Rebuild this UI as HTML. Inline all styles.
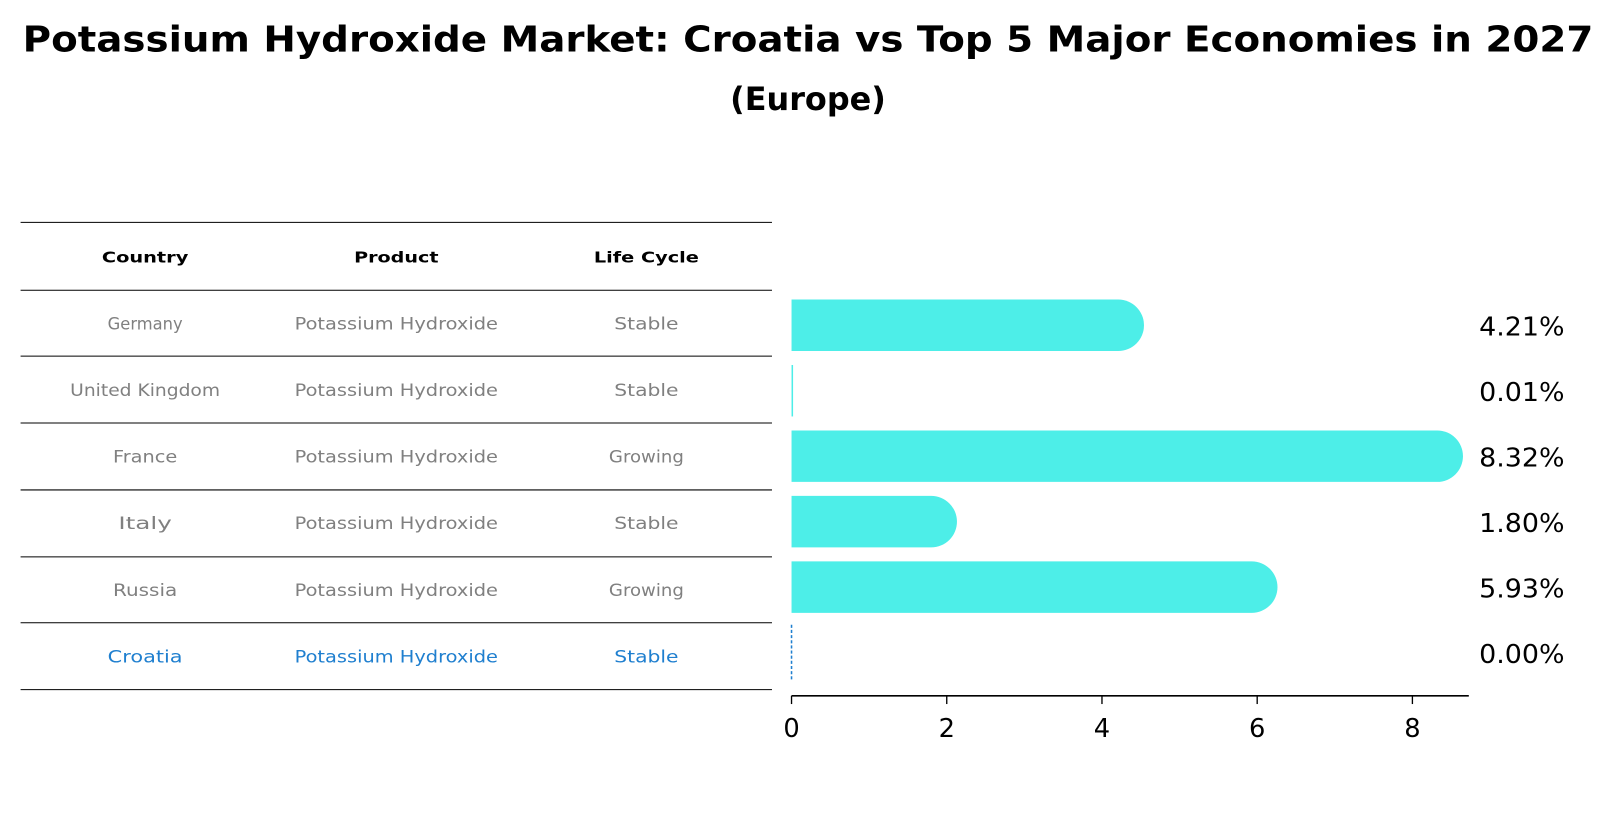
<!DOCTYPE html>
<html><head><meta charset="utf-8"><style>
body{margin:0;background:#fff;overflow:hidden;}
svg text{font-family:"DejaVu Sans","Liberation Sans",sans-serif;}
</style></head><body>
<svg width="1614" height="823" xmlns="http://www.w3.org/2000/svg">
<g transform="scale(1.0293)">
<text x="785" y="50" text-anchor="middle" font-size="35" font-weight="bold" textLength="1526" lengthAdjust="spacingAndGlyphs">Potassium Hydroxide Market: Croatia vs Top 5 Major Economies in 2027</text>
<text x="785" y="107" text-anchor="middle" font-size="31" font-weight="bold">(Europe)</text>
<g id="table"></g>
<g id="bars"></g>
</g>
</svg>
<script>
const countries=["Germany","United Kingdom","France","Italy","Russia","Croatia"];
const products=["Potassium Hydroxide","Potassium Hydroxide","Potassium Hydroxide","Potassium Hydroxide","Potassium Hydroxide","Potassium Hydroxide"];
const lifeCycles=["Stable","Stable","Growing","Stable","Growing","Stable"];
const values=[4.21,0.01,8.32,1.80,5.93,0.00];
const ticks=[0,2,4,6,8];
const NS="http://www.w3.org/2000/svg";
function mk(tag,attrs,parent,text){const e=document.createElementNS(NS,tag);for(const k in attrs)e.setAttribute(k,attrs[k]);if(text!==undefined)e.textContent=text;parent.appendChild(e);return e;}
const tbl=document.getElementById('table');
const lines=[216,282,346,411,476,541,605,670];
lines.forEach(y=>{const l=mk('line',{x1:20,x2:750,y1:y,y2:y,stroke:'#000','stroke-width':1},tbl);

});
const colX=[141,385,628];
["Country","Product","Life Cycle"].forEach((h,i)=>{const t=mk('text',{x:colX[i],y:255,'text-anchor':'middle','font-size':15,'font-weight':'bold','textLength':[84,82,102][i],'lengthAdjust':'spacingAndGlyphs'},tbl,h);

});
const rowY=i=>314+i*64.7;
countries.forEach((c,i)=>{
 const col=i===countries.length-1?'#1f7fcf':'#808080';
 [c,products[i],lifeCycles[i]].forEach((v,j)=>{const t=mk('text',{x:colX[j],y:rowY(i)+6,'text-anchor':'middle','font-size':16,fill:col,'textLength':v.length*10.4,'lengthAdjust':'spacingAndGlyphs'},tbl,v);
 
 });
});
const bars=document.getElementById('bars');
const x0=769,scale=75.4;
const xs=v=>x0+v*scale;
const yc=i=>316+i*63.6;
const bh=50;
values.forEach((v,i)=>{
 if(i===values.length-1){
  const l=mk('line',{x1:x0,x2:x0,y1:yc(i)-27,y2:yc(i)+27,stroke:'#1f7fcf','stroke-width':1.5,'stroke-dasharray':'3,2'},bars);
  
  
 } else {
  const w=xs(v)-x0;
  const r=Math.min(bh/2,w);
  const p=mk('path',{d:`M${x0},${yc(i)-bh/2} H${x0+w} a${r},${bh/2} 0 0 1 0,${bh} H${x0} Z`,fill:'#4deee8'},bars);
  if(w<2){p.setAttribute('d',`M${x0},${yc(i)-bh/2} h1.5 v${bh} h-1.5 Z`);}
  
  
 }
 const t=mk('text',{x:1437,y:yc(i)+10,'font-size':25,'textLength':83,'lengthAdjust':'spacingAndGlyphs'},bars,values[i].toFixed(2)+'%');
 
 
});
const ax=mk('line',{x1:x0,x2:1427,y1:676,y2:676,stroke:'#000','stroke-width':1.5},bars);


ticks.forEach(t=>{
 const l=mk('line',{x1:xs(t),x2:xs(t),y1:676,y2:684,stroke:'#000','stroke-width':1.3},bars);
 
 
 const tx=mk('text',{x:xs(t),y:716,'text-anchor':'middle','font-size':25},bars,String(t));
 
 
});
</script>
</body></html>
